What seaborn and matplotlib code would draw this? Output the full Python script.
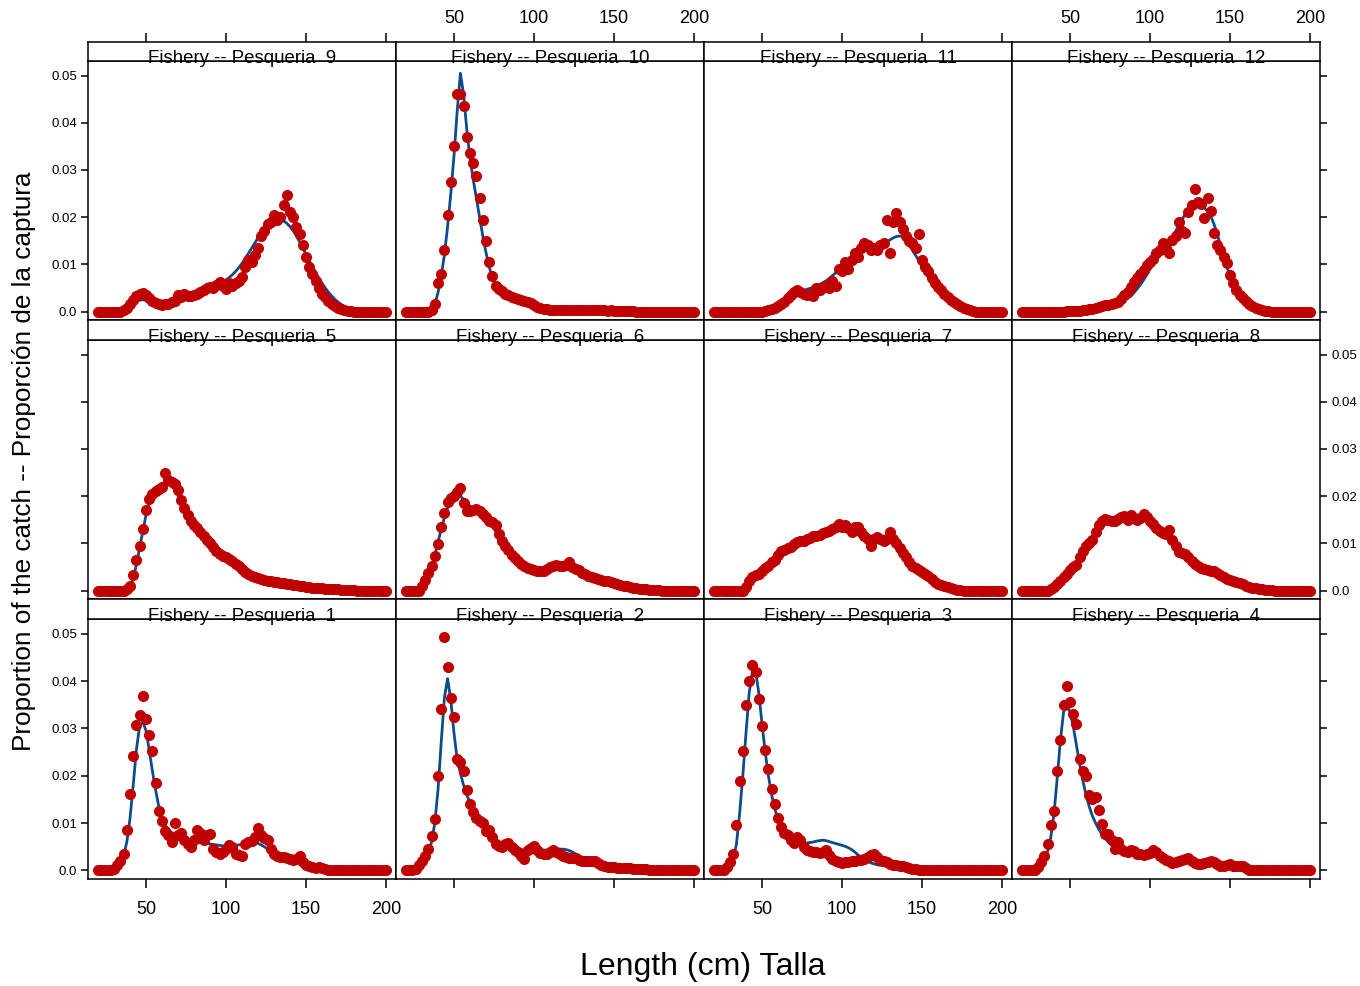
import numpy as np
import pandas as pd
import matplotlib
matplotlib.use("Agg")
import matplotlib.pyplot as plt
import seaborn as sns

# Length classes (cm)
lengths = list(range(20, 201, 2))
UNIT = 0.001  # values below are written in thousandths of the catch proportion

# Observed proportions (dots) and expected proportions (line), per fishery, in thousandths
obs = {}
exp = {}
obs[1] = [0,0,0,0,0,0.3,1.2,2.0,3.5,8.6,
          16.2,24.1,30.8,32.8,36.9,31.9,28.7,25.2,18.5,12.5,
          10.5,8.3,7.5,6.0,10.0,7.5,8.0,6.5,5.5,5.0,
          6.5,8.5,8.0,6.5,7.5,7.8,4.5,3.8,3.5,3.8,
          4.5,5.3,5.0,3.5,3.2,3.0,5.5,6.0,6.3,7.0,
          9.0,7.5,6.8,6.5,4.5,3.5,3.0,2.8,2.8,2.7,
          2.5,2.3,2.5,3.0,1.8,1.2,0.9,0.7,0.6,0.8,
          0.5,0.3,0.2,0.1,0,0,0,0,0,0,
          0,0,0,0,0,0,0,0,0,0,
          0]
exp[1] = [0,0,0,0,0,0.3,0.8,1.6,3.0,6.0,
          11.0,18.0,25.5,30.5,31.5,29.5,25.5,21.0,17.0,13.5,
          11.0,9.5,8.6,8.0,7.6,7.3,7.0,6.8,6.6,6.4,
          6.2,6.0,5.9,5.8,5.7,5.6,5.5,5.4,5.3,5.2,
          5.2,5.2,5.2,5.3,5.4,5.5,5.6,5.7,5.8,5.8,
          5.7,5.4,5.0,4.5,4.0,3.5,3.2,2.9,2.7,2.5,
          2.3,2.1,1.9,1.6,1.3,1.0,0.8,0.6,0.5,0.4,
          0.3,0.2,0.1,0,0,0,0,0,0,0,
          0,0,0,0,0,0,0,0,0,0,
          0]
obs[2] = [0,0,0,0.3,1.2,2.0,3.0,4.5,7.3,10.8,
          20.0,34.0,49.3,43.0,36.5,32.5,23.5,23.0,21.0,17.0,
          14.0,12.4,11.0,10.5,10.0,8.3,8.5,7.0,5.5,5.2,
          5.0,5.5,5.9,5.0,4.4,3.8,3.0,2.5,4.4,4.8,
          5.2,4.4,3.7,3.5,3.4,3.8,4.3,3.8,3.4,3.0,
          2.8,2.7,2.7,2.7,2.3,2.0,1.9,2.0,2.1,2.0,
          1.5,1.1,0.9,0.8,0.7,0.7,0.6,0.6,0.5,0.5,
          0.5,0.4,0.4,0.3,0.3,0.3,0.2,0.2,0.2,0.2,
          0.1,0.1,0.1,0.1,0.1,0,0,0,0,0,
          0]
exp[2] = [0,0,0,0.3,1.0,1.8,2.8,4.0,6.0,10.0,
          17.0,27.0,36.5,40.5,36.0,29.0,23.5,20.5,18.0,16.0,
          14.2,12.6,11.2,10.0,9.0,8.2,7.5,6.9,6.4,6.0,
          5.6,5.3,5.0,4.8,4.6,4.5,4.4,4.3,4.3,4.3,
          4.3,4.3,4.3,4.3,4.3,4.3,4.4,4.5,4.5,4.5,
          4.4,4.2,3.9,3.5,3.0,2.5,2.1,1.8,1.5,1.3,
          1.1,1.0,0.9,0.8,0.7,0.7,0.6,0.6,0.5,0.5,
          0.5,0.4,0.4,0.3,0.3,0.3,0.2,0.2,0.2,0.2,
          0.1,0.1,0.1,0.1,0.1,0,0,0,0,0,
          0]
obs[3] = [0,0,0,0,0.8,1.7,3.5,9.5,18.9,25.3,
          35.0,40.1,43.3,42.0,36.2,30.5,25.5,21.5,17.2,14.0,
          11.0,9.2,8.0,7.5,6.5,5.8,7.0,6.5,5.0,4.4,
          4.2,4.0,3.8,3.7,4.0,4.4,3.3,2.4,2.0,1.8,
          1.6,1.7,1.8,2.0,2.1,2.2,2.3,2.5,2.8,3.2,
          3.4,2.8,2.3,2.0,1.7,1.4,1.2,1.1,1.0,0.9,
          0.8,0.6,0.4,0.3,0.2,0.1,0,0,0,0,
          0,0,0,0,0,0,0,0,0,0,
          0,0,0,0,0,0,0,0,0,0,
          0]
exp[3] = [0,0,0,0,0.5,1.2,2.5,5.5,12.0,20.0,
          29.0,37.5,42.0,42.0,37.5,31.0,25.0,20.0,16.0,13.0,
          10.8,9.2,8.0,7.2,6.6,6.2,5.9,5.8,5.8,5.8,
          5.9,6.0,6.2,6.3,6.4,6.3,6.1,5.9,5.7,5.5,
          5.3,5.1,4.8,4.4,3.9,3.3,2.8,2.3,1.9,1.6,
          1.4,1.2,1.1,1.0,0.9,0.8,0.7,0.6,0.5,0.4,
          0.3,0.3,0.2,0.1,0.1,0,0,0,0,0,
          0,0,0,0,0,0,0,0,0,0,
          0,0,0,0,0,0,0,0,0,0,
          0]
obs[4] = [0,0,0,0,0,0.7,1.8,3.0,5.5,9.5,
          12.5,21.0,27.5,35.0,39.0,35.5,33.0,31.0,23.5,21.0,
          20.0,16.0,15.0,15.5,12.8,9.8,7.6,7.8,6.5,4.5,
          6.0,4.5,4.2,4.0,4.3,4.2,3.5,3.4,3.3,3.4,
          3.6,4.4,3.8,3.0,2.7,2.3,2.0,1.6,1.8,2.0,
          2.3,2.4,2.6,2.1,1.5,1.3,1.4,1.6,1.8,2.0,
          1.8,1.4,1.0,0.9,1.1,1.3,1.0,0.9,0.9,1.0,
          0.6,0.2,0.1,0,0,0,0,0,0,0,
          0,0,0,0,0,0,0,0,0,0,
          0]
exp[4] = [0,0,0,0,0,0.5,1.2,2.3,4.0,7.0,
          12.0,19.5,27.5,33.5,35.0,33.5,30.5,26.5,22.5,19.0,
          16.0,13.5,11.5,10.0,8.7,7.6,6.7,6.0,5.4,4.9,
          4.6,4.3,4.1,3.9,3.8,3.7,3.6,3.5,3.4,3.3,
          3.2,3.1,3.0,2.9,2.7,2.6,2.4,2.3,2.2,2.1,
          2.0,1.9,1.8,1.7,1.6,1.5,1.4,1.3,1.3,1.2,
          1.2,1.1,1.1,1.0,1.0,0.9,0.9,0.8,0.7,0.6,
          0.5,0.3,0.2,0.1,0,0,0,0,0,0,
          0,0,0,0,0,0,0,0,0,0,
          0]
obs[5] = [0,0,0,0,0,0,0,0,0,0.3,
          1.0,3.2,6.5,9.5,13.0,17.0,19.5,20.5,21.0,21.5,
          22.0,25.0,23.5,23.0,22.5,21.4,19.2,17.5,16.0,14.8,
          13.8,13.2,12.4,11.6,10.8,10.0,9.2,8.3,7.8,7.3,
          7.0,6.7,6.2,5.7,5.3,4.6,3.9,3.4,3.1,2.9,
          2.7,2.5,2.3,2.1,2.0,1.8,1.7,1.6,1.5,1.4,
          1.3,1.2,1.1,1.0,0.9,0.8,0.7,0.6,0.6,0.5,
          0.5,0.4,0.4,0.3,0.3,0.3,0.2,0.2,0.2,0.1,
          0.1,0,0,0,0,0,0,0,0,0,
          0]
exp[5] = [0,0,0,0,0,0,0,0,0,0.2,
          0.8,2.5,5.5,9.0,12.5,16.0,18.5,20.0,21.0,21.8,
          22.5,23.0,23.0,22.5,21.5,20.2,18.8,17.3,15.9,14.6,
          13.5,12.6,11.8,11.0,10.2,9.4,8.6,7.9,7.3,6.8,
          6.3,5.8,5.3,4.8,4.3,3.9,3.6,3.4,3.3,3.2,
          3.1,3.0,2.8,2.6,2.3,2.0,1.8,1.6,1.4,1.3,
          1.2,1.1,1.0,0.9,0.8,0.7,0.6,0.5,0.5,0.4,
          0.4,0.3,0.3,0.3,0.2,0.2,0.2,0.1,0.1,0.1,
          0.1,0,0,0,0,0,0,0,0,0,
          0]
obs[6] = [0,0,0,0,0,1.0,2.3,3.7,5.2,7.3,
          9.8,13.5,16.5,18.8,19.7,20.0,20.8,21.8,18.5,16.8,
          16.8,17.0,17.2,16.8,16.2,15.5,14.8,14.6,13.8,12.0,
          10.5,9.5,8.5,7.6,6.8,6.2,5.7,5.2,4.8,4.5,
          4.3,4.2,4.1,4.2,4.5,5.0,5.3,5.5,5.2,5.3,
          5.5,6.0,5.0,4.6,4.3,3.8,3.4,3.1,2.8,2.6,
          2.4,2.3,2.1,2.0,1.8,1.6,1.4,1.2,1.0,0.9,
          0.7,0.6,0.5,0.4,0.3,0.3,0.2,0.2,0.1,0.1,
          0,0,0,0,0,0,0,0,0,0,
          0]
exp[6] = [0,0,0,0,0.2,0.6,1.5,3.0,5.0,7.5,
          10.2,13.0,15.5,17.5,18.9,19.8,20.2,20.0,19.3,18.5,
          17.9,17.5,17.1,16.6,16.0,15.3,14.5,13.6,12.6,11.5,
          10.4,9.4,8.5,7.6,6.8,6.2,5.6,5.2,4.9,4.7,
          4.6,4.6,4.7,4.8,5.0,5.2,5.4,5.5,5.6,5.6,
          5.5,5.3,5.0,4.7,4.3,3.9,3.5,3.2,2.9,2.6,
          2.4,2.2,2.0,1.8,1.6,1.4,1.2,1.0,0.9,0.8,
          0.6,0.5,0.4,0.4,0.3,0.2,0.2,0.1,0.1,0.1,
          0,0,0,0,0,0,0,0,0,0,
          0]
obs[7] = [0,0,0,0,0,0,0,0,0,0,
          0.8,2.0,2.8,3.2,3.6,4.2,4.8,5.2,6.0,6.5,
          7.5,8.3,8.6,9.0,9.3,9.8,10.2,10.4,10.6,11.0,
          11.2,11.6,11.5,11.8,12.2,12.4,12.6,13.0,13.5,14.0,
          13.5,13.8,13.2,12.5,13.5,13.5,12.5,11.5,11.0,9.5,
          11.0,11.3,11.0,10.5,11.0,12.5,11.0,10.0,9.0,8.0,
          7.0,6.0,5.3,4.8,4.3,3.9,3.5,3.0,2.4,1.8,
          1.4,1.1,0.9,0.7,0.5,0.3,0.2,0.1,0,0,
          0,0,0,0,0,0,0,0,0,0,
          0]
exp[7] = [0,0,0,0,0,0,0,0,0,0.3,
          0.8,1.5,2.2,2.9,3.6,4.2,4.8,5.4,6.0,6.6,
          7.2,7.8,8.3,8.8,9.3,9.7,10.1,10.5,10.8,11.1,
          11.4,11.7,11.9,12.1,12.3,12.5,12.7,12.9,13.0,13.1,
          13.1,13.0,12.9,12.7,12.5,12.2,11.9,11.6,11.3,11.0,
          10.8,10.7,10.7,10.8,10.8,10.6,10.1,9.4,8.6,7.7,
          6.8,6.0,5.3,4.7,4.2,3.7,3.2,2.7,2.2,1.8,
          1.4,1.1,0.8,0.6,0.4,0.3,0.2,0.1,0,0,
          0,0,0,0,0,0,0,0,0,0,
          0]
obs[8] = [0,0,0,0,0,0,0,0,0,0.3,
          0.8,1.4,2.0,2.8,3.6,4.4,5.0,5.5,7.0,8.3,
          9.4,10.0,10.8,12.5,13.8,14.8,15.2,15.0,14.8,14.7,
          15.2,15.5,15.7,15.0,16.0,15.3,15.0,15.3,16.2,15.5,
          14.7,14.0,13.3,12.6,12.2,12.0,12.9,10.8,9.5,8.2,
          8.0,7.8,7.0,6.2,5.7,5.2,4.8,4.6,4.4,4.2,
          4.1,3.7,3.2,2.9,2.5,2.2,2.0,1.7,1.5,1.3,
          1.0,0.8,0.6,0.5,0.4,0.3,0.2,0.2,0.1,0,
          0,0,0,0,0,0,0,0,0,0,
          0]
exp[8] = [0,0,0,0,0,0,0,0,0,0.2,
          0.6,1.1,1.7,2.4,3.2,4.0,4.9,5.9,7.0,8.1,
          9.2,10.3,11.4,12.4,13.3,14.0,14.5,14.8,15.0,15.1,
          15.2,15.3,15.4,15.4,15.4,15.4,15.3,15.2,15.0,14.7,
          14.3,13.8,13.3,12.7,12.0,11.3,10.5,9.7,8.9,8.2,
          7.6,7.0,6.5,6.0,5.6,5.2,4.9,4.6,4.3,4.0,
          3.7,3.4,3.1,2.8,2.5,2.2,1.9,1.6,1.4,1.2,
          1.0,0.8,0.6,0.5,0.4,0.3,0.2,0.1,0.1,0,
          0,0,0,0,0,0,0,0,0,0,
          0]
obs[9] = [0,0,0,0,0,0,0,0,0.3,0.8,
          1.5,2.5,3.2,3.8,4.0,3.5,2.8,2.2,1.8,1.5,
          1.4,1.5,1.6,2.0,2.2,3.5,3.0,3.8,3.3,3.2,
          3.5,3.8,4.2,4.5,5.0,5.3,5.0,5.6,6.2,5.5,
          4.8,6.0,5.5,6.0,6.5,7.3,9.5,11.0,10.5,12.0,
          13.5,16.0,17.0,18.5,19.0,20.5,19.5,20.0,22.5,24.8,
          21.0,20.0,18.0,16.5,14.0,11.5,9.5,8.0,6.5,5.0,
          3.8,3.0,2.2,1.6,1.1,0.7,0.5,0.3,0.2,0.1,
          0,0,0,0,0,0,0,0,0,0,
          0]
exp[9] = [0,0,0,0,0,0,0,0.1,0.3,0.7,
          1.2,1.7,2.1,2.4,2.5,2.4,2.2,2.0,1.9,1.9,
          2.0,2.1,2.3,2.5,2.7,2.9,3.1,3.3,3.5,3.7,
          3.9,4.1,4.3,4.5,4.8,5.1,5.4,5.7,6.0,6.3,
          6.7,7.2,7.8,8.5,9.3,10.2,11.2,12.3,13.4,14.5,
          15.6,16.6,17.5,18.3,18.9,19.3,19.5,19.5,19.2,18.7,
          18.0,17.1,16.0,14.8,13.5,12.1,10.8,9.5,8.3,7.1,
          6.0,5.0,4.1,3.3,2.6,2.0,1.5,1.1,0.8,0.5,
          0.35,0.2,0.1,0,0,0,0,0,0,0,
          0]
obs[10] = [0,0,0,0,0,0,0,0,0.3,1.5,
           6.0,8.0,13.0,20.5,27.5,35.0,46.0,46.0,43.5,37.0,
           33.5,31.4,28.8,24.0,19.5,15.0,10.5,7.5,5.5,4.8,
           4.3,3.8,3.4,3.1,2.8,2.6,2.4,2.2,2.0,1.7,
           1.3,1.0,0.8,0.6,0.5,0.4,0.4,0.4,0.4,0.4,
           0.4,0.4,0.4,0.4,0.4,0.3,0.4,0.3,0.3,0.3,
           0.3,0.3,0.3,0.2,0.3,0.2,0.2,0.1,0.1,0.1,
           0.1,0.1,0,0,0,0,0,0,0,0,
           0,0,0,0,0,0,0,0,0,0,
           0]
exp[10] = [0,0,0,0,0,0,0,0,0.3,1.5,
           4.0,7.5,12.0,18.0,25.0,33.0,42.5,50.5,46.0,38.5,
           32.5,28.0,24.0,20.0,16.0,12.5,9.5,7.0,5.5,4.7,
           4.1,3.6,3.2,2.9,2.6,2.4,2.2,2.0,1.8,1.5,
           1.2,0.9,0.7,0.5,0.4,0.35,0.3,0.3,0.3,0.3,
           0.3,0.3,0.3,0.3,0.3,0.3,0.3,0.3,0.3,0.3,
           0.3,0.2,0.2,0.2,0.2,0.2,0.1,0.1,0.1,0.1,
           0.1,0.1,0,0,0,0,0,0,0,0,
           0,0,0,0,0,0,0,0,0,0,
           0]
obs[11] = [0,0,0,0,0,0,0,0,0,0,
           0,0,0,0,0,0,0.2,0.3,0.5,0.8,
           1.1,1.5,2.0,2.8,3.5,4.2,4.5,4.2,3.8,3.6,
           3.8,3.2,5.0,4.5,5.2,5.5,5.0,6.5,5.5,9.0,
           8.5,10.5,9.0,11.0,12.5,11.5,13.5,14.5,14.0,13.0,
           13.5,13.0,14.0,14.5,19.5,12.5,19.0,20.8,19.0,17.5,
           16.0,15.0,14.5,13.5,16.5,11.0,9.5,8.5,7.0,6.0,
           5.2,4.5,3.8,3.0,2.5,2.0,1.5,1.1,0.8,0.5,
           0.3,0.2,0,0,0,0,0,0,0,0,
           0]
exp[11] = [0,0,0,0,0,0,0.1,0.2,0.3,0.3,
           0.3,0.3,0.3,0.4,0.5,0.6,0.7,0.9,1.1,1.4,
           1.7,2.1,2.5,2.9,3.3,3.7,4.0,4.3,4.5,4.7,
           4.9,5.1,5.4,5.7,6.1,6.5,7.0,7.6,8.2,8.8,
           9.5,10.1,10.7,11.3,11.9,12.4,12.8,13.2,13.5,13.7,
           13.8,13.9,14.1,14.4,14.8,15.2,15.6,15.9,16.0,15.9,
           15.2,14.2,13.0,11.9,10.8,9.6,8.4,7.2,6.1,5.1,
           4.2,3.4,2.7,2.1,1.6,1.2,0.9,0.6,0.4,0.25,
           0.15,0.1,0,0,0,0,0,0,0,0,
           0]
obs[12] = [0,0,0,0,0,0,0,0,0,0,
           0,0,0,0,0.05,0.1,0.1,0.2,0.2,0.3,
           0.4,0.5,0.6,0.8,1.0,1.1,1.3,1.4,1.5,1.8,
           2.0,2.6,3.4,4.2,5.2,6.2,7.0,8.0,8.8,9.8,
           10.5,11.2,12.4,13.0,14.5,13.5,12.4,15.2,16.0,19.0,
           17.0,16.6,21.0,22.5,26.0,23.3,22.8,19.8,24.0,21.4,
           16.6,14.0,13.0,11.5,10.3,7.8,6.0,4.6,3.6,2.9,
           2.2,1.6,1.1,0.8,0.5,0.3,0.2,0.1,0,0,
           0,0,0,0,0,0,0,0,0,0,
           0]
exp[12] = [0,0,0,0,0,0,0,0,0,0,
           0,0,0,0,0,0,0.1,0.1,0.1,0.15,
           0.2,0.25,0.3,0.35,0.45,0.55,0.65,0.8,1.0,1.2,
           1.5,1.9,2.3,2.8,3.3,4.0,4.8,5.7,6.7,7.8,
           9.0,10.0,11.0,11.8,12.5,13.3,14.5,15.8,17.0,18.3,
           19.5,20.6,21.5,22.2,22.6,22.8,22.6,22.0,21.2,20.2,
           18.5,16.5,14.0,11.5,9.5,7.6,6.0,4.7,3.6,2.7,
           2.0,1.5,1.0,0.7,0.5,0.3,0.2,0.1,0,0,
           0,0,0,0,0,0,0,0,0,0,
           0]

x_ticks = [50, 100, 150, 200]
y_ticks = [0.0, 0.01, 0.02, 0.03, 0.04, 0.05]
y_tick_labels = ["0.0", "0.01", "0.02", "0.03", "0.04", "0.05"]
strip_fmt = "Fishery -- Pesqueria  {}"
x_label = "Length (cm) Talla"
y_label = "Proportion of the catch -- Proporción de la captura"

for k in obs:
    assert len(obs[k]) == len(lengths), (k, "obs", len(obs[k]))
    assert len(exp[k]) == len(lengths), (k, "exp", len(exp[k]))

sns.set_style("white")
plt.rcParams['font.family'] = ['Liberation Sans', 'DejaVu Sans']

DOT = "#C00000"
LINE = "#0B4C8C"
W, H = 1360, 986
fig = plt.figure(figsize=(W / 100, H / 100), dpi=100)
fig.patch.set_facecolor("white")

def rect(x0, y0, x1, y1):
    return [x0 / W, 1 - y1 / H, (x1 - x0) / W, (y1 - y0) / H]

col_x = [88, 396, 704, 1012, 1320]
strip_top = [42, 320, 599]
panel_top = [61, 340, 619]
panel_bot = [320, 599, 879]
XLIM = (13.75, 206.25)
YLIM = (-0.0018, 0.0531)
SPW = 1.1

for r in range(3):
    for c in range(4):
        fid = (2 - r) * 4 + c + 1
        ax = fig.add_axes(rect(col_x[c], panel_top[r], col_x[c + 1], panel_bot[r]))
        df = pd.DataFrame({"length": lengths,
                           "obs": np.array(obs[fid]) * UNIT,
                           "exp": np.array(exp[fid]) * UNIT})
        sns.lineplot(data=df, x="length", y="exp", ax=ax, color=LINE,
                     linewidth=2.0, zorder=2)
        sns.scatterplot(data=df, x="length", y="obs", ax=ax, color=DOT,
                        s=64, linewidth=0, zorder=3)
        ax.set_xlim(*XLIM)
        ax.set_ylim(*YLIM)
        ax.set_xlabel("")
        ax.set_ylabel("")
        ax.set_xticks(x_ticks)
        ax.set_yticks(y_ticks)
        ax.set_yticklabels(y_tick_labels)
        for sp in ax.spines.values():
            sp.set_visible(True)
            sp.set_color("black")
            sp.set_linewidth(SPW)
        ax.tick_params(axis="x", which="both", top=False,
                       bottom=(r == 2), labelbottom=(r == 2 and c in (0, 2)),
                       direction="out", length=6.5, width=SPW,
                       labelsize=13, pad=9, colors="black")
        ax.tick_params(axis="y", which="both",
                       left=(c == 0), labelleft=(c == 0 and r in (0, 2)),
                       right=(c == 3), labelright=(c == 3 and r == 1),
                       direction="out", length=5, width=SPW,
                       labelsize=9.5, pad=3, colors="black")
        # strip
        sax = fig.add_axes(rect(col_x[c], strip_top[r], col_x[c + 1], panel_top[r]))
        sax.set_xlim(*XLIM)
        sax.set_ylim(0, 1)
        sax.set_facecolor("white")
        for sp in sax.spines.values():
            sp.set_visible(True)
            sp.set_color("black")
            sp.set_linewidth(SPW)
        sax.set_yticks([])
        if r == 0:
            sax.set_xticks(x_ticks)
            sax.xaxis.set_ticks_position("top")
            sax.tick_params(axis="x", top=True, bottom=False,
                            labeltop=(c in (1, 3)), labelbottom=False,
                            direction="out", length=6.5, width=SPW,
                            labelsize=13, pad=4, colors="black")
        else:
            sax.set_xticks([])
        sax.text(0.5, -0.08, strip_fmt.format(fid), transform=sax.transAxes,
                 ha="center", va="baseline", fontsize=13.4, color="black",
                 clip_on=False, zorder=1)

fig.text(24 / W, 1 - 461 / H, y_label, rotation=90, ha="center", va="center",
         fontsize=18.8, color="black")
fig.text(703 / W, 1 - 967 / H, x_label, ha="center", va="center",
         fontsize=23, color="black")

fig.savefig("out.png", dpi=100, facecolor="white")
